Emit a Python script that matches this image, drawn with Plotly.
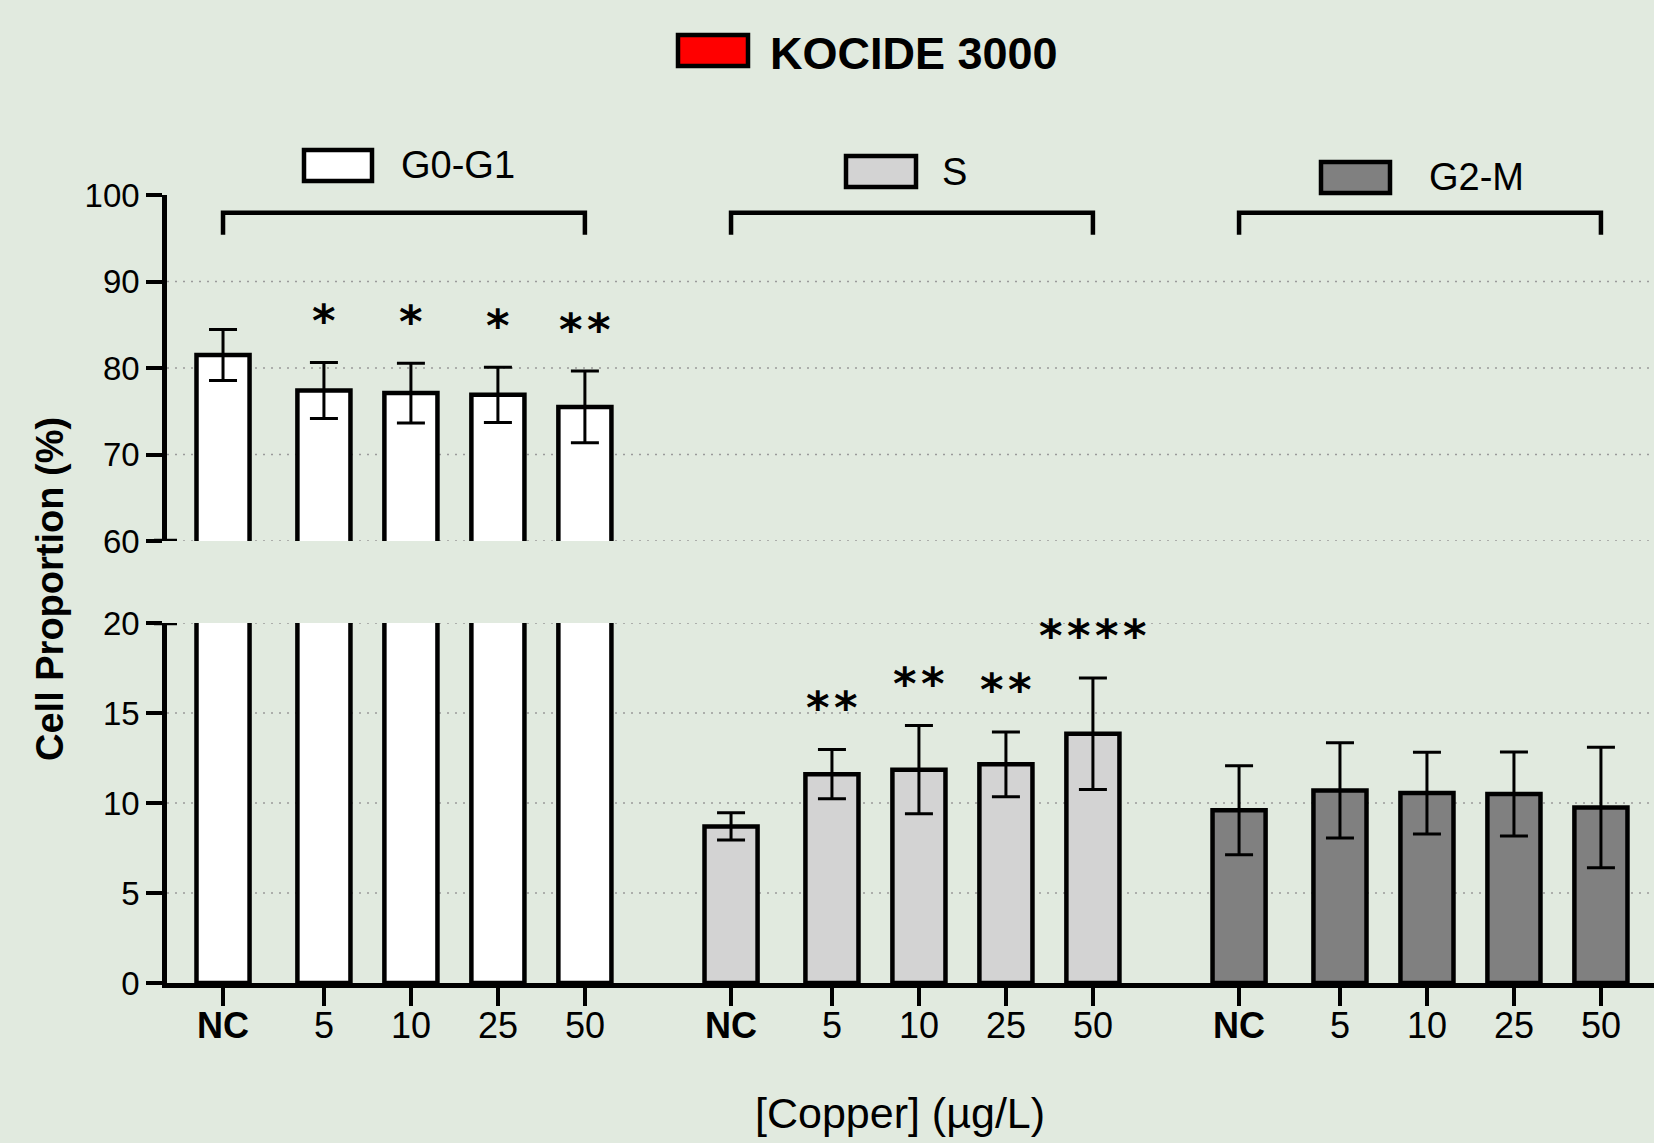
import plotly.graph_objects as go

# ---------------- data ----------------
doses = ["NC", "5", "10", "25", "50"]
phases = ["G0-G1", "S", "G2-M"]
g0g1_mean = [81.5, 77.4, 77.1, 76.9, 75.5]
g0g1_sd = [2.95, 3.25, 3.45, 3.2, 4.15]
s_mean = [8.7, 11.6, 11.85, 12.15, 13.85]
s_sd = [0.76, 1.37, 2.45, 1.8, 3.1]
g2m_mean = [9.6, 10.7, 10.55, 10.5, 9.75]
g2m_sd = [2.47, 2.65, 2.27, 2.33, 3.35]
g0g1_sig = ["", "*", "*", "*", "**"]
s_sig = ["", "**", "**", "**", "****"]
g2m_sig = ["", "", "", "", ""]
upper_ticks = [60, 70, 80, 90, 100]
lower_ticks = [0, 5, 10, 15, 20]
title_text = "KOCIDE 3000"
x_title = "[Copper] (µg/L)"
y_title = "Cell Proportion (%)"

# ---------------- layout helpers ----------------
W, H = 1654, 1143
FONT = "Liberation Sans, Arial, sans-serif"
BG = "#e1eadf"


def px(x):
    return x / W


def py(y):
    return 1 - y / H


offsets = [0, 1.16, 2.16, 3.16, 4.16]
GROUP = 5.84
positions = [[g * GROUP + o for o in offsets] for g in range(3)]
fills = ["#ffffff", "#d3d3d3", "#808080"]
means = [g0g1_mean, s_mean, g2m_mean]
sds = [g0g1_sd, s_sd, g2m_sd]
sigs = [g0g1_sig, s_sig, g2m_sig]
BW = 0.61

fig = go.Figure()

for g in range(3):
    err = dict(type="data", array=sds[g], visible=True, color="black",
               thickness=3, width=14)
    fig.add_trace(go.Bar(
        x=positions[g], y=means[g], width=BW, xaxis="x", yaxis="y",
        marker=dict(color=fills[g], line=dict(color="black", width=4.5)),
        error_y=err if g > 0 else None, showlegend=False, hoverinfo="skip"))
    if g == 0:
        fig.add_trace(go.Bar(
            x=positions[g], y=means[g], width=BW, xaxis="x", yaxis="y2",
            marker=dict(color=fills[g], line=dict(color="black", width=4.5)),
            error_y=err, showlegend=False, hoverinfo="skip"))

tickvals = [p for grp in positions for p in grp]
ticktext = [("<b>%s</b>" % d if d == "NC" else d) for _ in range(3) for d in doses]

fig.update_layout(
    template="none",
    width=W, height=H, autosize=False, margin=dict(l=0, r=0, t=0, b=0, pad=0),
    paper_bgcolor=BG, plot_bgcolor="rgba(0,0,0,0)",
    barmode="overlay", font=dict(family=FONT, color="black"),
    xaxis=dict(domain=[px(167), 1], range=[-0.644, 16.45], anchor="y",
               automargin=False, ticklabelstandoff=-11,
               showline=True, linewidth=4.5, linecolor="black",
               ticks="outside", ticklen=18, tickwidth=4, tickcolor="black",
               tickvals=tickvals, ticktext=ticktext, showgrid=False,
               zeroline=False, tickfont=dict(size=36)),
    yaxis=dict(domain=[py(983), py(623)], range=[0, 20], anchor="x",
               automargin=False,
               showline=True, linewidth=4.5, linecolor="black",
               ticks="outside", ticklen=16, tickwidth=4, tickcolor="black",
               tickvals=lower_ticks, showgrid=False, zeroline=False,
               tickfont=dict(size=33)),
    yaxis2=dict(domain=[py(541), py(195)], range=[60, 100], anchor="x",
                automargin=False,
                showline=True, linewidth=4.5, linecolor="black",
                ticks="outside", ticklen=16, tickwidth=4, tickcolor="black",
                tickvals=upper_ticks, showgrid=False, zeroline=False,
                tickfont=dict(size=33)),
)

shapes = []
for v in upper_ticks[:-1]:
    shapes.append(dict(type="line", xref="paper", yref="y2", x0=px(167), x1=1,
                       y0=v, y1=v, layer="below",
                       line=dict(color="#9a9a9a", width=1.5, dash="2px,6px")))
for v in lower_ticks[1:]:
    shapes.append(dict(type="line", xref="paper", yref="y", x0=px(167), x1=1,
                       y0=v, y1=v, layer="below",
                       line=dict(color="#9a9a9a", width=1.5, dash="2px,6px")))
shapes.append(dict(type="line", xref="paper", yref="y2", x0=px(154), x1=px(177),
                   y0=60, y1=60, line=dict(color="black", width=4.5)))
shapes.append(dict(type="line", xref="paper", yref="y", x0=px(154), x1=px(177),
                   y0=20, y1=20, line=dict(color="black", width=4.5)))
for g in range(3):
    x0, x1 = positions[g][0], positions[g][-1]
    shapes.append(dict(type="path", xref="x", yref="y2",
                       path="M %f,95.4 L %f,97.95 L %f,97.95 L %f,95.4" % (x0, x0, x1, x1),
                       line=dict(color="black", width=4.5)))
legend_boxes = [(678, 748, 35, 66, "#ff0000"), (304, 372, 150, 181, fills[0]),
                (846, 916, 156, 187, fills[1]), (1321, 1390, 162, 193, fills[2])]
for x0, x1, y0, y1, c in legend_boxes:
    shapes.append(dict(type="rect", xref="paper", yref="paper",
                       x0=px(x0), x1=px(x1), y0=py(y1), y1=py(y0),
                       fillcolor=c, line=dict(color="black", width=4.5)))

ann = []
ann.append(dict(text="<b>%s</b>" % title_text, x=px(768), y=py(53), xref="paper", yref="paper",
                xanchor="left", yanchor="middle", showarrow=False, font=dict(size=45)))
legend_text = [(phases[0], 399, 165), (phases[1], 940, 172), (phases[2], 1427, 177)]
for t, x, y in legend_text:
    ann.append(dict(text=t, x=px(x), y=py(y), xref="paper", yref="paper",
                    xanchor="left", yanchor="middle", showarrow=False, font=dict(size=38)))
ann.append(dict(text="<b>%s</b>" % y_title, x=px(50), y=py(589), xref="paper", yref="paper",
                textangle=-90, xanchor="center", yanchor="middle", showarrow=False,
                font=dict(size=38)))
ann.append(dict(text=x_title, x=px(900), y=py(1113), xref="paper", yref="paper",
                xanchor="center", yanchor="middle", showarrow=False, font=dict(size=43)))
for g in range(3):
    for i, s in enumerate(sigs[g]):
        if not s:
            continue
        top = means[g][i] + sds[g][i]
        ann.append(dict(text="<b>%s</b>" % "\u200a".join(s), x=positions[g][i], y=top,
                        xref="x", yref="y2" if g == 0 else "y",
                        xanchor="center", yanchor="middle", yshift=42, showarrow=False,
                        font=dict(size=45, family="DejaVu Sans")))

fig.update_layout(shapes=shapes, annotations=ann)

post = ("document.body.style.margin='0';document.body.style.padding='0';"
        "document.body.style.overflow='hidden';"
        "document.documentElement.style.background='%s';"
        "var gd=document.getElementById('{plot_id}');"
        "Plotly.relayout(gd,{width:%d,height:%d});" % (BG, W, H))
fig.write_html("out.html", post_script=post,
               config={"responsive": False, "displayModeBar": False})
